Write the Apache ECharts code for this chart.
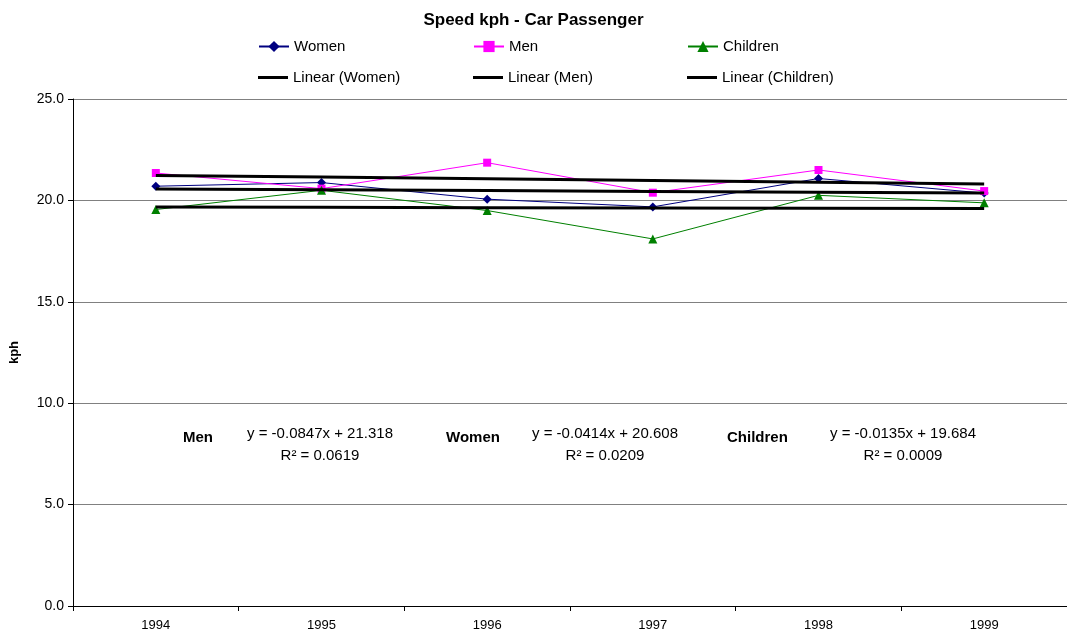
<!DOCTYPE html>
<html>
<head>
<meta charset="utf-8">
<title>Speed kph - Car Passenger</title>
<script src="https://cdn.jsdelivr.net/npm/echarts@6/dist/echarts.min.js"></script>
<style>
  html, body { margin: 0; padding: 0; background: #ffffff; }
  #chart { width: 1067px; height: 642px; }
</style>
</head>
<body>
<div id="chart"></div>
<script>
// Survey years on the category axis
const years = ['1994', '1995', '1996', '1997', '1998', '1999'];

// Average passenger speed (kph) per group
const women = [20.70, 20.88, 20.06, 19.68, 21.08, 20.36];
const men = [21.35, 20.58, 21.86, 20.38, 21.50, 20.46];
const children = [19.55, 20.50, 19.50, 18.10, 20.25, 19.88];

// Fitted linear trends, x = 1..6 over the years
const trendSlope = { women: -0.0414, men: -0.0847, children: -0.0135 };
const trendIntercept = { women: 20.608, men: 21.318, children: 19.684 };
const trendR2 = { women: '0.0209', men: '0.0619', children: '0.0009' };

// Y axis tick values
const yTicks = [0, 5, 10, 15, 20, 25];

function trendLine(key) {
  return years.map((_, i) => +(trendIntercept[key] + trendSlope[key] * (i + 1)).toFixed(4));
}
function equation(key) {
  return 'y = ' + trendSlope[key] + 'x + ' + trendIntercept[key].toFixed(3);
}

const FONT = '"Liberation Sans", Arial, sans-serif';
const LEGEND_SIZE = 15;
const NOTE_SIZE = 15;
const chart = echarts.init(document.getElementById('chart'), null, { renderer: 'canvas' });

function legendAt(name, left, top) {
  return {
    data: [name], left: left, top: top, padding: 0,
    itemWidth: 30, itemHeight: 14, itemGap: 0,
    textStyle: { fontFamily: FONT, fontSize: LEGEND_SIZE, color: '#000' }
  };
}
// Trend legends show a plain thick black bar
function trendLegendAt(name, left, top) {
  return {
    data: [{ name: name, icon: 'rect', itemStyle: { color: '#000' } }],
    left: left, top: top, padding: 0,
    itemWidth: 30, itemHeight: 3, itemGap: 0,
    textStyle: { fontFamily: FONT, fontSize: LEGEND_SIZE, color: '#000' }
  };
}

function annotation(label, key, labelX, eqX) {
  return [
    {
      type: 'text', x: labelX, y: 430,
      style: { text: label, font: 'bold ' + NOTE_SIZE + 'px ' + FONT, fill: '#000', align: 'left', verticalAlign: 'top' }
    },
    {
      type: 'text', x: eqX, y: 426,
      style: { text: equation(key), font: NOTE_SIZE + 'px ' + FONT, fill: '#000', align: 'center', verticalAlign: 'top' }
    },
    {
      type: 'text', x: eqX, y: 448,
      style: { text: 'R² = ' + trendR2[key], font: NOTE_SIZE + 'px ' + FONT, fill: '#000', align: 'center', verticalAlign: 'top' }
    }
  ];
}

const option = {
  backgroundColor: '#ffffff',
  animation: false,
  title: {
    text: 'Speed kph - Car Passenger',
    left: 'center', top: 7,
    textStyle: { fontFamily: FONT, fontSize: 17, fontWeight: 'bold', color: '#000' }
  },
  legend: [
    legendAt('Women', 258, 39),
    legendAt('Men', 473, 39),
    legendAt('Children', 687, 39),
    trendLegendAt('Linear (Women)', 258, 70),
    trendLegendAt('Linear (Men)', 473, 70),
    trendLegendAt('Linear (Children)', 687, 70)
  ],
  grid: { left: 73, top: 99, width: 998, height: 507, containLabel: false },
  xAxis: {
    type: 'category',
    data: years,
    boundaryGap: true,
    axisLine: { lineStyle: { color: '#000', width: 1 } },
    axisTick: { show: true, alignWithLabel: false, length: 5, lineStyle: { color: '#000' } },
    axisLabel: { fontFamily: FONT, fontSize: 13, color: '#000', margin: 13 },
    splitLine: { show: false }
  },
  yAxis: {
    type: 'value',
    min: yTicks[0], max: yTicks[yTicks.length - 1], interval: yTicks[1] - yTicks[0],
    name: 'kph', nameLocation: 'middle', nameGap: 52, nameRotate: 90,
    nameTextStyle: { fontFamily: FONT, fontSize: 13, fontWeight: 'bold', color: '#000' },
    axisLine: { show: true, lineStyle: { color: '#000', width: 1 } },
    axisTick: { show: true, length: 5, lineStyle: { color: '#000' } },
    axisLabel: { fontFamily: FONT, fontSize: 14, color: '#000', margin: 9,
      formatter: v => v.toFixed(1) },
    splitLine: { show: true, lineStyle: { color: '#808080', width: 1 } }
  },
  series: [
    {
      name: 'Women', type: 'line', data: women, z: 3,
      symbol: 'diamond', symbolSize: 9, showAllSymbol: true,
      lineStyle: { color: '#000080', width: 1 },
      itemStyle: { color: '#000080' }
    },
    {
      name: 'Men', type: 'line', data: men, z: 3,
      symbol: 'rect', symbolSize: 8,
      lineStyle: { color: '#FF00FF', width: 1 },
      itemStyle: { color: '#FF00FF' }
    },
    {
      name: 'Children', type: 'line', data: children, z: 3,
      symbol: 'triangle', symbolSize: 9,
      lineStyle: { color: '#008000', width: 1 },
      itemStyle: { color: '#008000' }
    },
    {
      name: 'Linear (Women)', type: 'line', data: trendLine('women'), z: 4,
      symbol: 'none', lineStyle: { color: '#000', width: 3 }, itemStyle: { color: '#000' }
    },
    {
      name: 'Linear (Men)', type: 'line', data: trendLine('men'), z: 4,
      symbol: 'none', lineStyle: { color: '#000', width: 3 }, itemStyle: { color: '#000' }
    },
    {
      name: 'Linear (Children)', type: 'line', data: trendLine('children'), z: 4,
      symbol: 'none', lineStyle: { color: '#000', width: 3 }, itemStyle: { color: '#000' }
    }
  ],
  graphic: [].concat(
    annotation('Men', 'men', 183, 320),
    annotation('Women', 'women', 446, 605),
    annotation('Children', 'children', 727, 903)
  )
};

chart.setOption(option);
</script>
</body>
</html>
